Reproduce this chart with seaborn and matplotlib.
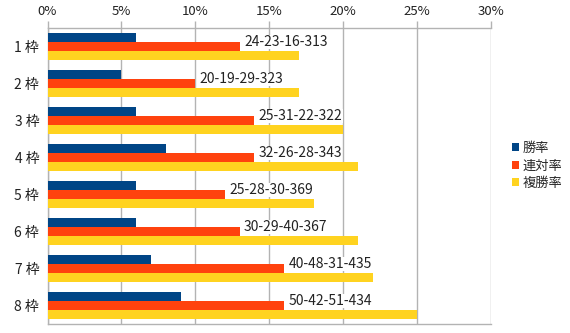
import matplotlib
matplotlib.use("Agg")
import matplotlib.pyplot as plt
import matplotlib.ticker as mticker
from matplotlib.patches import Patch
import seaborn as sns
import pandas as pd
import numpy as np

categories = ["1 枠", "2 枠", "3 枠", "4 枠", "5 枠", "6 枠", "7 枠", "8 枠"]
win_rate = [6, 5, 6, 8, 6, 6, 7, 9]
quinella_rate = [13, 10, 14, 14, 12, 13, 16, 16]
show_rate = [17, 17, 20, 21, 18, 21, 22, 25]
records = ["24-23-16-313", "20-19-29-323", "25-31-22-322", "32-26-28-343",
           "25-28-30-369", "30-29-40-367", "40-48-31-435", "50-42-51-434"]
series = ["勝率", "連対率", "複勝率"]
colors = ["#004586", "#ff420e", "#ffd320"]
xticks = [0, 5, 10, 15, 20, 25, 30]

sns.set_style("white")
plt.rcParams['font.family'] = ['Noto Sans CJK JP', 'DejaVu Sans']

df = pd.DataFrame({
    "cat": categories * 3,
    "series": [series[0]] * 8 + [series[1]] * 8 + [series[2]] * 8,
    "value": win_rate + quinella_rate + show_rate,
})

fig = plt.figure(figsize=(5.70, 3.33), dpi=100)
ax = fig.add_axes([47.5 / 570, 1 - 324 / 333, (491 - 47.5) / 570, (324 - 28) / 333])

sns.barplot(data=df, y="cat", x="value", hue="series", hue_order=series,
            palette=colors, orient="h", width=0.73, saturation=1,
            ax=ax, legend=False, zorder=3)
for p in ax.patches:
    p.set_linewidth(0)

ax.set_xlim(0, 30)
ax.set_ylim(7.5, -0.5)
ax.set_xticks(xticks)
ax.xaxis.set_major_formatter(mticker.FuncFormatter(lambda v, _: f"{v:.0f}%"))
ax.xaxis.tick_top()
ax.tick_params(axis="x", which="major", length=5, color="#b3b3b3", width=1,
               labelsize=9.5, pad=2, labelcolor="#222222")
ax.grid(axis="x", color="#b3b3b3", linewidth=1, zorder=0)
ax.set_axisbelow(True)

ax.set_yticks(range(len(categories)))
ax.set_yticklabels(categories)
ax.set_yticks(np.arange(-0.5, 8, 1), minor=True)
ax.tick_params(axis="y", which="major", length=0, labelsize=10, pad=6, labelcolor="#222222")
ax.tick_params(axis="y", which="minor", length=5, color="#b3b3b3", width=1)
ax.set_xlabel("")
ax.set_ylabel("")

for side in ["top", "left", "bottom"]:
    ax.spines[side].set_visible(True)
    ax.spines[side].set_color("#b3b3b3")
    ax.spines[side].set_linewidth(1)
ax.spines["right"].set_visible(False)

for i, (q, r) in enumerate(zip(quinella_rate, records)):
    ax.text(q + 0.3, i - 0.11, r, va="center", ha="left", fontsize=10,
            color="#222222", zorder=5,
            bbox=dict(facecolor="white", edgecolor="none", pad=0.0))

handles = [Patch(facecolor=c, edgecolor="none", label=s) for s, c in zip(series, colors)]
fig.legend(handles=handles, loc="center left", bbox_to_anchor=(505 / 570, 1 - 166 / 333),
           frameon=False, fontsize=9.5, handlelength=0.55, handleheight=0.55,
           handletextpad=0.3, labelspacing=0.35, borderpad=0)

fig.savefig("out.png", dpi=100)
